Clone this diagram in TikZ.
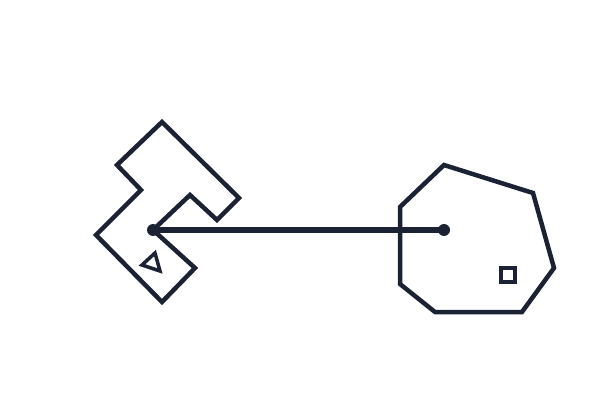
\documentclass[tikz,border=0pt]{standalone}
\definecolor{ink}{HTML}{1A2233}
\begin{document}
\begin{tikzpicture}[x=1pt,y=-1pt,
  outline/.style={draw=ink,line width=4.5pt,line join=miter},
  dotnode/.style={circle,fill=ink,inner sep=0pt,minimum size=12pt},
  link/.style={draw=ink,line width=5.5pt}]
\useasboundingbox (0,0) rectangle (600,420);
% left shape
\draw[outline] (190,195) -- (153,230) -- (195,268) -- (162,302) -- (96,235) -- (141,190) -- (117,165) -- (162,122) -- (239,198) -- (217,220) -- cycle;
\draw[outline,line width=3.5pt] (142,265) -- (155,253) -- (160,271) -- cycle;
% right shape
\draw[outline] (444,165) -- (533,193) -- (554,268) -- (522,312) -- (435,312) -- (400,284) -- (400,207) -- cycle;
\draw[outline,line width=3.5pt] (501,268) rectangle (515,282);
% connector
\node[dotnode] (a) at (153,230) {};
\node[dotnode] (b) at (444,230) {};
\draw[link] (a.center) -- (b.center);
\end{tikzpicture}
\end{document}
